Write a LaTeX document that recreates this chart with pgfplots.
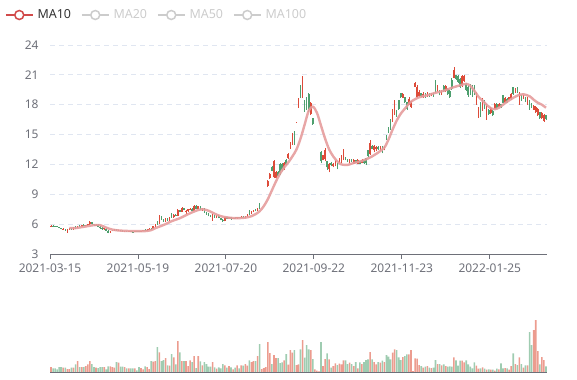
\documentclass[border=0pt]{standalone}
\usepackage{pgfplots}
\pgfplotsset{compat=1.18}
\usepackage{pgfplotstable}
\usepackage{fontspec}
\setmainfont{Noto Sans}
\definecolor{axisgray}{HTML}{6E7079}
\definecolor{gridgray}{HTML}{E0E6F1}
\definecolor{upc}{HTML}{DD4B39}
\definecolor{downc}{HTML}{4E9F6E}
\definecolor{vup}{HTML}{EC9C8F}
\definecolor{vdown}{HTML}{9FCCB1}
\definecolor{maline}{HTML}{E59C9C}
\definecolor{legred}{HTML}{D14A4A}
\definecolor{leggray}{HTML}{CCCCCC}
\definecolor{legtext}{HTML}{333333}

\pgfplotstableread{
i o h l c v
0 5.80 5.90 5.76 5.86 5.0
1 5.86 5.90 5.78 5.80 3.7
2 5.80 5.86 5.74 5.78 3.7
3 5.78 5.84 5.72 5.76 2.7
4 5.74 5.76 5.58 5.62 5.0
5 5.62 5.66 5.48 5.52 5.0
6 5.50 5.60 5.44 5.56 4.3
7 5.52 5.56 5.32 5.36 4.3
8 5.30 5.54 5.14 5.46 3.0
9 5.46 5.66 5.40 5.60 3.0
10 5.58 5.64 5.42 5.48 4.3
11 5.50 5.72 5.46 5.68 4.3
12 5.68 5.78 5.56 5.62 7.7
13 5.62 5.86 5.60 5.80 11.0
14 5.80 5.90 5.70 5.76 5.0
15 5.76 5.96 5.72 5.92 5.0
16 5.92 6.00 5.80 5.84 5.0
17 5.84 5.94 5.78 5.90 6.0
18 5.90 6.06 5.86 6.02 7.7
19 6.00 6.30 5.96 6.22 11.0
20 6.20 6.26 5.92 5.98 8.0
21 5.98 6.06 5.84 5.90 5.0
22 5.90 6.02 5.84 5.96 4.5
23 5.94 5.98 5.68 5.72 4.0
24 5.72 5.80 5.56 5.62 5.0
25 5.62 5.70 5.46 5.50 5.0
26 5.50 5.64 5.44 5.58 5.0
27 5.56 5.58 5.30 5.34 2.7
28 5.34 5.40 5.08 5.16 5.7
29 5.16 5.36 5.12 5.32 5.7
30 5.32 5.46 5.28 5.40 5.0
31 5.40 5.50 5.34 5.44 4.3
32 5.44 5.48 5.30 5.34 10.0
33 5.34 5.42 5.28 5.38 9.3
34 5.38 5.44 5.30 5.32 5.3
35 5.32 5.38 5.22 5.26 5.3
36 5.26 5.34 5.20 5.30 5.0
37 5.30 5.36 5.22 5.28 3.7
38 5.28 5.34 5.22 5.30 3.7
39 5.30 5.36 5.24 5.26 3.7
40 5.26 5.32 5.18 5.24 3.7
41 5.24 5.34 5.20 5.30 3.7
42 5.30 5.36 5.24 5.28 1.7
43 5.28 5.34 5.20 5.22 5.0
44 5.22 5.36 5.20 5.32 4.0
45 5.32 5.44 5.28 5.40 2.7
46 5.40 5.48 5.34 5.36 5.7
47 5.36 5.50 5.32 5.46 5.0
48 5.46 5.60 5.42 5.56 3.0
49 5.56 5.62 5.46 5.50 11.0
50 5.52 5.86 5.50 5.82 10.3
51 5.82 6.02 5.76 5.96 11.0
52 6.30 6.34 5.92 6.00 25.0
53 6.00 6.96 5.98 6.80 19.7
54 6.80 6.86 6.40 6.46 11.0
55 6.46 6.52 6.24 6.30 12.0
56 6.30 6.60 6.26 6.54 14.0
57 6.54 6.62 6.30 6.36 6.7
58 6.36 6.74 6.32 6.68 6.3
59 6.95 7.08 6.62 6.70 18.0
60 6.70 6.98 6.66 6.92 14.7
61 6.92 7.00 6.80 6.84 7.7
62 6.84 7.50 6.80 7.40 31.0
63 7.40 7.46 7.20 7.26 19.7
64 7.26 7.72 7.22 7.62 11.0
65 7.62 7.66 7.38 7.44 11.0
66 7.20 7.40 7.06 7.30 11.0
67 7.30 7.52 7.26 7.48 6.0
68 7.48 7.62 7.40 7.56 11.7
69 7.56 7.62 7.30 7.36 10.0
70 7.36 7.90 7.32 7.80 16.0
71 7.80 7.88 7.50 7.56 4.0
72 7.56 7.86 7.52 7.78 16.0
73 7.78 7.80 7.44 7.48 10.7
74 7.40 7.62 7.30 7.56 6.7
75 7.56 7.58 7.10 7.16 10.0
76 7.16 7.22 6.96 7.02 8.0
77 7.02 7.08 6.78 6.84 5.3
78 6.84 6.96 6.70 6.76 5.3
79 6.50 7.00 6.34 6.86 10.0
80 6.86 6.92 6.64 6.70 4.7
81 6.66 6.90 6.60 6.84 3.3
82 6.84 6.88 6.58 6.62 4.7
83 6.62 6.66 6.40 6.46 3.7
84 6.46 6.52 6.22 6.30 8.0
85 6.30 6.76 6.28 6.70 6.7
86 6.70 6.74 6.50 6.56 4.3
87 6.56 6.72 6.52 6.68 6.0
88 6.68 6.70 6.46 6.52 4.7
89 6.52 6.66 6.48 6.62 2.7
90 6.62 6.68 6.54 6.58 4.3
91 6.58 6.74 6.56 6.70 6.7
92 6.70 6.76 6.60 6.64 3.7
93 6.64 6.78 6.58 6.72 6.7
94 6.72 6.78 6.62 6.66 6.3
95 6.66 6.84 6.64 6.80 8.0
96 6.80 7.06 6.76 7.00 6.3
97 7.30 7.40 6.96 7.04 11.7
98 7.04 7.34 7.00 7.28 10.0
99 7.28 7.46 7.20 7.40 11.0
100 7.40 7.56 7.30 7.36 11.0
101 7.36 7.62 7.32 7.56 16.0
102 8.10 8.14 7.52 7.98 28.0
103 8.78 8.78 8.78 8.78 3.0
104 9.66 9.66 9.66 9.66 4.0
105 9.96 9.96 9.96 9.96 5.0
106 9.82 10.42 9.78 10.36 30.0
107 10.62 11.12 10.58 11.02 19.0
108 11.78 11.84 11.30 11.38 8.0
109 10.70 12.46 10.60 12.30 17.0
110 10.66 11.30 10.60 11.24 14.0
111 11.28 11.32 10.80 10.86 14.0
112 12.06 12.12 10.90 11.10 9.0
113 12.04 12.10 11.30 11.40 9.7
114 11.52 12.20 11.48 12.12 11.7
115 12.48 12.56 11.90 11.98 18.0
116 12.60 13.10 12.56 13.02 7.3
117 13.64 14.30 13.60 14.24 22.0
118 14.06 15.12 14.00 15.02 19.3
119 15.26 15.32 14.00 14.12 22.0
120 16.22 16.30 16.20 16.28 7.0
121 17.78 18.70 17.70 18.60 7.7
122 19.90 20.00 18.65 18.80 22.7
123 18.80 20.90 18.65 20.50 32.0
124 18.40 18.50 17.30 17.40 14.3
125 18.70 18.80 17.50 17.60 27.0
126 19.10 19.20 17.30 17.50 22.7
127 17.10 18.30 16.95 18.20 22.0
128 16.70 16.70 16.00 16.10 13.0
129 14.50 14.50 14.50 14.50 2.7
130 13.05 13.05 13.05 13.05 1.3
131 12.60 12.60 12.60 12.60 0.7
132 13.20 13.30 12.10 12.30 30.0
133 12.40 12.95 12.40 12.90 6.0
134 12.50 13.70 12.30 13.40 13.0
135 12.30 12.30 11.45 11.70 18.7
136 11.50 12.15 11.20 12.00 12.7
137 12.10 12.20 11.80 11.90 4.3
138 11.80 12.10 11.70 12.00 6.0
139 11.90 12.40 11.80 12.30 8.7
140 12.00 12.10 11.50 11.60 7.0
141 12.10 12.60 12.10 12.50 8.3
142 12.20 12.90 12.10 12.70 7.7
143 12.50 13.60 12.45 13.20 11.7
144 12.70 12.70 12.40 12.45 11.7
145 12.50 12.50 12.20 12.25 8.0
146 12.15 12.50 12.10 12.40 9.3
147 12.45 12.50 12.20 12.25 8.0
148 12.05 12.50 12.00 12.40 6.0
149 12.40 12.40 12.10 12.15 10.0
150 12.05 12.50 12.00 12.40 3.7
151 12.30 12.30 12.00 12.05 9.7
152 12.10 12.50 12.10 12.45 8.0
153 12.40 12.40 12.00 12.10 10.0
154 12.60 12.60 11.95 12.10 12.0
155 13.40 13.40 12.70 12.80 12.7
156 13.00 14.45 12.95 14.20 20.0
157 13.90 14.00 13.50 13.60 12.7
158 13.40 14.00 13.20 13.90 10.0
159 13.50 13.90 13.30 13.80 7.7
160 13.80 13.90 13.40 13.50 10.0
161 13.40 13.90 13.30 13.80 9.3
162 13.70 13.90 13.10 13.30 11.3
163 13.40 13.90 13.40 13.85 10.0
164 15.00 15.00 14.50 14.55 17.0
165 15.80 15.80 15.20 15.30 15.3
166 16.60 16.60 15.50 15.60 12.7
167 16.30 17.60 16.30 17.40 19.3
168 17.00 18.50 17.00 18.30 22.7
169 17.50 17.50 16.80 16.90 22.0
170 18.50 18.50 17.50 17.60 14.7
171 19.20 19.20 18.70 18.75 12.0
172 18.70 19.20 18.70 19.10 15.0
173 18.75 18.80 18.20 18.30 16.0
174 18.30 18.30 17.50 17.60 17.7
175 18.00 18.75 18.00 18.60 17.7
176 17.75 18.40 17.70 18.35 22.0
177 19.95 19.95 19.95 19.95 1.0
178 19.82 20.30 19.80 20.22 13.7
179 18.80 20.00 18.70 19.80 13.3
180 18.90 19.50 18.80 19.30 7.0
181 19.20 19.20 18.80 18.85 6.0
182 18.80 19.30 18.70 19.10 4.3
183 19.10 19.20 18.65 18.75 5.3
184 18.80 19.30 18.80 19.20 6.0
185 19.10 19.15 18.80 18.90 4.3
186 18.90 19.15 18.85 19.05 4.0
187 19.10 19.15 18.80 18.95 4.3
188 20.40 20.50 19.15 19.30 12.0
189 19.30 20.00 19.30 19.90 8.0
190 19.50 19.50 18.95 19.00 8.0
191 19.00 19.50 19.00 19.40 6.7
192 19.90 20.00 19.30 19.40 7.7
193 19.40 20.00 19.30 19.90 6.0
194 19.60 19.70 19.00 19.10 5.3
195 19.40 19.50 18.70 18.80 5.7
196 20.50 20.65 19.50 19.60 5.3
197 20.70 21.80 20.65 21.50 14.7
198 21.00 21.00 20.50 20.60 11.7
199 20.90 21.00 20.20 20.30 6.3
200 20.60 20.70 19.70 19.80 11.3
201 19.90 21.00 19.80 20.90 11.3
202 20.40 21.00 20.30 20.90 9.7
203 20.10 20.15 19.40 19.50 11.7
204 19.80 20.00 18.80 19.00 7.7
205 19.90 20.10 19.00 19.10 5.3
206 19.80 20.00 18.80 19.00 3.7
207 19.70 20.00 19.00 19.10 9.7
208 18.10 19.30 18.00 19.20 6.3
209 16.70 17.80 16.65 17.70 3.3
210 18.20 18.30 16.80 16.90 3.7
211 17.50 18.65 17.40 18.50 4.7
212 18.40 18.50 17.60 17.70 3.3
213 16.60 18.10 16.50 18.00 2.3
214 17.50 17.60 17.00 17.10 2.7
215 17.20 17.80 17.10 17.70 2.3
216 17.40 17.50 16.90 17.00 2.3
217 17.60 18.15 17.60 18.10 1.3
218 18.10 18.15 17.60 17.70 3.3
219 17.80 18.15 17.80 18.10 2.7
220 18.10 18.10 17.70 17.75 8.7
221 19.00 19.00 18.15 18.20 3.7
222 18.20 18.80 18.15 18.70 4.0
223 18.60 18.65 18.15 18.20 3.7
224 18.50 18.80 18.50 18.75 2.3
225 18.60 19.20 18.50 19.10 6.0
226 19.80 19.80 19.00 19.10 18.7
227 19.20 19.70 19.20 19.60 8.0
228 19.75 19.75 19.15 19.20 7.0
229 18.10 19.30 18.00 19.20 14.7
230 18.95 18.95 18.40 18.45 8.0
231 18.60 18.95 18.60 18.90 4.3
232 18.80 18.80 18.30 18.35 6.7
233 18.10 18.80 18.00 18.70 6.7
234 18.50 18.50 17.50 17.60 40.0
235 18.20 18.20 17.70 17.75 27.0
236 17.50 18.00 17.50 17.90 42.0
237 17.25 17.90 17.20 17.80 52.0
238 16.95 17.70 16.90 17.60 21.0
239 17.30 17.30 16.60 16.70 7.7
240 16.65 17.30 16.60 17.20 15.0
241 16.35 17.10 16.30 17.00 12.0
242 17.00 17.00 16.50 16.55 5.7
}\candles

\pgfplotstableread{
i m
9 5.60
12 5.60
15 5.70
18 5.80
21 5.90
24 5.90
27 5.65
30 5.45
34 5.35
40 5.30
46 5.30
49 5.40
51 5.60
53 5.75
56 6.00
59 6.30
63 6.60
67 7.00
71 7.35
74 7.50
77 7.35
80 7.05
83 6.80
87 6.65
91 6.60
95 6.65
98 6.80
100 7.00
102 7.30
104 7.80
106 8.50
108 9.40
110 10.30
112 11.10
114 11.70
116 12.20
118 12.80
120 13.50
122 14.60
124 16.00
126 17.40
128 17.80
130 17.20
132 15.90
134 14.60
136 13.50
138 12.80
140 12.30
142 12.00
145 11.95
148 12.15
152 12.35
156 12.70
160 13.20
163 13.70
165 14.50
167 15.50
169 16.40
171 17.10
173 17.60
176 18.30
180 18.75
184 18.95
188 19.20
192 19.40
196 19.70
200 19.95
203 20.10
205 19.90
207 19.40
209 18.80
211 18.40
213 18.00
215 17.65
217 17.55
219 17.70
221 18.00
223 18.30
226 18.70
229 19.00
231 19.05
234 18.85
236 18.50
238 18.20
240 18.00
242 17.70
}\maten

\begin{document}
\begin{tikzpicture}
\useasboundingbox (0,0) rectangle (577bp,380bp);
\begin{axis}[
  at={(50bp,126bp)}, anchor=south west,
  scale only axis, width=497bp, height=209bp,
  xmin=-0.5, xmax=242.5, ymin=3, ymax=24,
  axis x line*=bottom, axis y line*=left,
  y axis line style={draw=none},
  x axis line style={-, draw=axisgray, line width=0.8bp},
  ytick={3,6,...,24},
  xtick={-0.5,42.5,85.5,128.5,171.5,214.5},
  xticklabels={2021-03-15,2021-05-19,2021-07-20,2021-09-22,2021-11-23,2022-01-25},
  tick align=outside,
  major tick length=5bp,
  xtick style={draw=axisgray, line width=0.8bp},
  ytick style={draw=none},
  ymajorgrids,
  major grid style={draw=gridgray, line width=0.8bp, dash pattern=on 5bp off 4bp},
  tick label style={font=\fontsize{12}{14}\selectfont, text=axisgray},
  xticklabel style={yshift=-1bp},
  /pgf/number format/assume math mode=true,
  yticklabel style={xshift=-3bp},
  legend columns=4,
  legend cell align=left,
  legend style={at={(-0.0905,1.1435)}, anchor=west, draw=none, fill=none,
    inner sep=0pt, outer sep=0pt, font=\fontsize{12.5}{15}\selectfont,
    nodes={inner sep=0pt},
    /tikz/every even column/.append style={column sep=10bp},
    /tikz/every odd column/.append style={column sep=4bp}},
  legend image code/.code={\draw[#1] (0bp,0bp) -- (27bp,0bp);
    \draw[#1, fill=white] (13.5bp,0bp) circle (4.5bp);},
]
% wicks
\addplot[forget plot, draw=none, mark=none,
  restrict expr to domain={\thisrow{c}-\thisrow{o}}{0:100},
  error bars/.cd, y dir=plus, y explicit, error mark=none,
  error bar style={draw=upc, line width=0.8bp}]
  table[x=i, y=l, y error plus expr=\thisrow{h}-\thisrow{l}] {\candles};
\addplot[forget plot, draw=none, mark=none,
  restrict expr to domain={\thisrow{c}-\thisrow{o}}{-100:-0.0001},
  error bars/.cd, y dir=plus, y explicit, error mark=none,
  error bar style={draw=downc, line width=0.8bp}]
  table[x=i, y=l, y error plus expr=\thisrow{h}-\thisrow{l}] {\candles};
% bodies
\addplot[forget plot, draw=none, mark=none,
  restrict expr to domain={\thisrow{c}-\thisrow{o}}{0:100},
  error bars/.cd, y dir=plus, y explicit, error mark=none,
  error bar style={draw=upc, line width=1.6bp}]
  table[x=i, y=o, y error plus expr=\thisrow{c}-\thisrow{o}] {\candles};
\addplot[forget plot, draw=none, mark=none,
  restrict expr to domain={\thisrow{c}-\thisrow{o}}{-100:-0.0001},
  error bars/.cd, y dir=plus, y explicit, error mark=none,
  error bar style={draw=downc, line width=1.6bp}]
  table[x=i, y=c, y error plus expr=\thisrow{o}-\thisrow{c}] {\candles};
% MA10
\addplot[forget plot, draw=maline, line width=2.4bp, smooth, tension=0.5, opacity=0.9]
  table[x=i, y=m] {\maten};
\addlegendimage{draw=legred, line width=1.5bp}
\addlegendentry{\textcolor{legtext}{MA10}}
\addlegendimage{draw=leggray, line width=1.5bp}
\addlegendentry{\textcolor{leggray}{MA20}}
\addlegendimage{draw=leggray, line width=1.5bp}
\addlegendentry{\textcolor{leggray}{MA50}}
\addlegendimage{draw=leggray, line width=1.5bp}
\addlegendentry{\textcolor{leggray}{MA100}}
\end{axis}

\begin{axis}[
  at={(50bp,8bp)}, anchor=south west,
  scale only axis, width=497bp, height=54bp,
  xmin=-0.5, xmax=242.5, ymin=0, ymax=54,
  axis x line*=bottom, axis y line=none,
  xtick=\empty,
  x axis line style={-, draw=axisgray, line width=0.8bp},
]
\addplot[ybar, bar width=1.6bp, bar shift=0pt, fill=vup, draw=none,
  restrict expr to domain={\thisrow{c}-\thisrow{o}}{0:100}]
  table[x=i, y=v] {\candles};
\addplot[ybar, bar width=1.6bp, bar shift=0pt, fill=vdown, draw=none,
  restrict expr to domain={\thisrow{c}-\thisrow{o}}{-100:-0.0001}]
  table[x=i, y=v] {\candles};
\end{axis}
\end{tikzpicture}
\end{document}
